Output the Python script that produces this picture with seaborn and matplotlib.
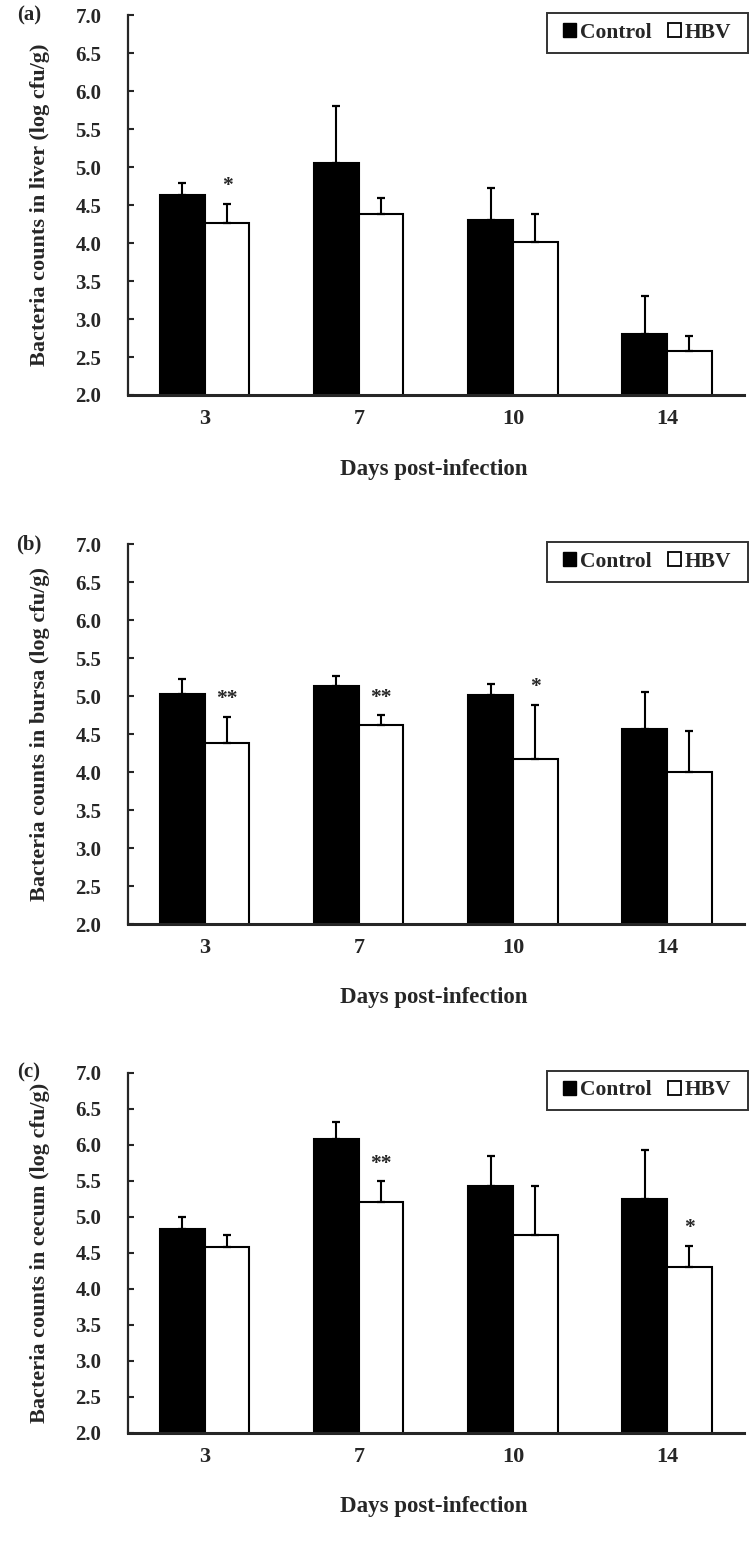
import matplotlib
matplotlib.use("Agg")
import matplotlib.pyplot as plt
import seaborn as sns
import pandas as pd
import numpy as np
from matplotlib.patches import Patch
from matplotlib.path import Path

sns.set_theme(style="ticks")
plt.rcParams['font.family'] = ['Liberation Serif', 'DejaVu Serif']
plt.rcParams['font.weight'] = 'bold'

days = ["3", "7", "10", "14"]
groups = ["Control", "HBV"]

liver_control = [4.63, 5.05, 4.30, 2.80]
liver_control_err = [0.16, 0.75, 0.43, 0.51]
liver_hbv = [4.26, 4.39, 4.01, 2.58]
liver_hbv_err = [0.26, 0.20, 0.37, 0.20]
liver_sig = ["*", "", "", ""]

bursa_control = [5.03, 5.13, 5.02, 4.57]
bursa_control_err = [0.20, 0.14, 0.14, 0.49]
bursa_hbv = [4.39, 4.62, 4.17, 4.00]
bursa_hbv_err = [0.34, 0.13, 0.72, 0.54]
bursa_sig = ["**", "**", "*", ""]

cecum_control = [4.83, 6.08, 5.43, 5.25]
cecum_control_err = [0.16, 0.23, 0.42, 0.68]
cecum_hbv = [4.58, 5.20, 4.75, 4.30]
cecum_hbv_err = [0.17, 0.29, 0.67, 0.30]
cecum_sig = ["", "**", "", "*"]

panels = [
    ("(a)", "Bacteria counts in liver (log cfu/g)", liver_control, liver_control_err, liver_hbv, liver_hbv_err, liver_sig),
    ("(b)", "Bacteria counts in bursa (log cfu/g)", bursa_control, bursa_control_err, bursa_hbv, bursa_hbv_err, bursa_sig),
    ("(c)", "Bacteria counts in cecum (log cfu/g)", cecum_control, cecum_control_err, cecum_hbv, cecum_hbv_err, cecum_sig),
]

W, H = 756, 1553
fig = plt.figure(figsize=(W / 100, H / 100), dpi=100)
tops = [15.3, 544.3, 1072.7]
bottoms = [395, 924, 1432.7]
left_px, right_px = 127.7, 744
EXTRA_X = 7.0  # extra horizontal frame padding in pixels


def wide_box(x0, y0, width, height, mutation_size):
    px = EXTRA_X
    x1 = x0 + width + px
    x0 = x0 - px
    y1 = y0 + height
    return Path([(x0, y0), (x1, y0), (x1, y1), (x0, y1), (x0, y0)], closed=True)


for (lab, ylab, c, ce, h, he, sig), top, bot in zip(panels, tops, bottoms):
    ah = bot - top
    aw = right_px - left_px
    ax = fig.add_axes([left_px / W, 1 - bot / H, aw / W, ah / H])
    df = pd.DataFrame({
        "day": days * 2,
        "group": [groups[0]] * 4 + [groups[1]] * 4,
        "value": c + h,
    })
    sns.barplot(data=df, x="day", y="value", hue="group", order=days, hue_order=groups,
                palette={"Control": "black", "HBV": "white"}, edgecolor="black",
                linewidth=1.5, width=0.58, gap=0, errorbar=None, legend=False, ax=ax)
    bars = [p for p in ax.patches if p.get_height() > 0]
    for p, val, err in zip(bars, c + h, ce + he):
        xc = p.get_x() + p.get_width() / 2
        ax.errorbar([xc], [val], yerr=[[0], [err]], fmt="none", ecolor="black",
                    elinewidth=1.5, capsize=2.9, capthick=1.6, zorder=3)
    hbv_bars = bars[4:8]
    for p, val, err, s in zip(hbv_bars, h, he, sig):
        if s:
            xc = p.get_x() + p.get_width() / 2
            ax.text(xc, val + err + 0.1, s, ha="center", va="bottom",
                    fontsize=15.5, fontweight="bold")
    ax.set_ylim(2.0, 7.0)
    ax.set_xlim(-0.5, 3.5)
    yt = np.arange(2.0, 7.01, 0.5)
    ax.set_yticks(yt)
    ax.set_yticklabels([f"{v:.1f}" for v in yt])
    ax.tick_params(axis="y", direction="in", length=4.3, width=1.5, labelsize=15, pad=19)
    ax.tick_params(axis="x", length=0, labelsize=16, pad=10)
    for t in ax.get_xticklabels() + ax.get_yticklabels():
        t.set_fontweight("bold")
    sns.despine(ax=ax)
    ax.spines["left"].set_linewidth(1.6)
    ax.spines["bottom"].set_linewidth(2.2)
    ax.set_xlabel("Days post-infection", fontsize=16.5, fontweight="bold")
    ax.xaxis.set_label_coords(0.496, -74 / ah)
    ax.xaxis.label.set_va("center")
    ax.set_ylabel(ylab, fontsize=16, fontweight="bold")
    ax.yaxis.set_label_coords((40 - left_px) / aw, 0.5)
    ax.yaxis.label.set_va("center")
    handles = [Patch(facecolor="black", edgecolor="black", label="Control"),
               Patch(facecolor="white", edgecolor="black", linewidth=1.3, label="HBV")]
    leg = ax.legend(handles=handles, ncol=2, loc="upper right",
                    bbox_to_anchor=((748 - EXTRA_X - left_px) / aw, 1 + 2 / ah), borderaxespad=0,
                    frameon=True, fancybox=False, edgecolor="black", handlelength=0.6,
                    handleheight=0.62, handletextpad=0.18, columnspacing=0.75,
                    prop={"size": 15.5, "weight": "bold"}, borderpad=0.45)
    leg.get_frame().set_linewidth(1.4)
    leg.get_frame().set_boxstyle(wide_box)
    ax.text((29 - left_px) / aw, 1.0, lab, transform=ax.transAxes, fontsize=15,
            fontweight="bold", ha="center", va="center")

fig.savefig("out.png", dpi=100)
